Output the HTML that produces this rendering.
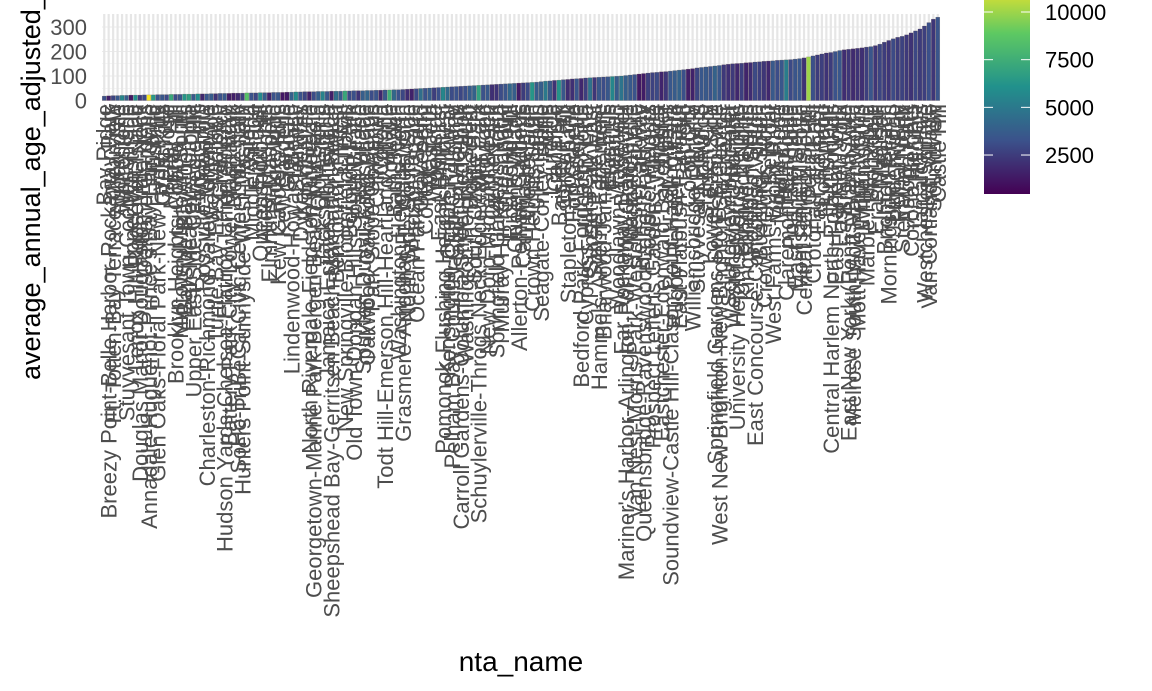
<!DOCTYPE html>
<html><head><meta charset="utf-8">
<style>
body{margin:0;background:#fff;width:1152px;height:691px;overflow:hidden}
svg{display:block;font-family:"Liberation Sans",Arial,sans-serif}
</style></head>
<body>
<svg id="chart" width="1152" height="691" viewBox="0 0 1152 691" xmlns="http://www.w3.org/2000/svg">
<g id="grid"></g>
<g id="bars"></g>
<g id="yaxis"></g>
<g id="xlabels"></g>
<text transform="translate(40,380) rotate(-90)" font-size="27" fill="#000">average_annual_age_adjusted_rate_per_100000</text>
<text x="521" y="671" text-anchor="middle" font-size="28" fill="#000">nta_name</text>
<defs><linearGradient id="vir" x1="0" y1="1" x2="0" y2="0">
<stop offset="0" stop-color="#440154"/><stop offset="0.25" stop-color="#3b528b"/><stop offset="0.5" stop-color="#21918c"/><stop offset="0.75" stop-color="#5ec962"/><stop offset="1" stop-color="#fde725"/></linearGradient></defs>
<g id="legend"></g>
</svg>
<script>
const values=[18,19,20,20,21,21,22,22,22,23,23,23,24,24,24,25,25,25,26,26,
26,27,27,27,28,28,29,29,29,30,30,30,31,31,31,32,32,32,33,33,
33,34,34,35,35,36,36,36,37,37,37,38,38,38,39,39,40,40,40,41,
41,42,42,43,43,44,44,45,46,47,48,49,50,51,52,53,54,55,56,57,
58,59,60,61,62,63,64,65,66,67,68,69,70,71,72,73,74,75,77,79,
80,82,83,85,86,88,89,90,92,93,94,95,96,97,98,99,100,102,104,106,
108,110,112,114,115,117,118,120,122,124,126,128,130,133,135,137,139,141,143,146,
148,150,151,152,154,155,157,158,160,161,162,164,165,166,167,169,171,174,178,182,
186,190,194,196,200,204,207,209,211,213,215,218,220,224,230,238,245,252,258,262,
268,276,284,292,304,318,332,340];
const population=[3200,1500,2800,3600,5600,3800,1200,6000,2400,3000,11600,6500,3300,3500,3000,7200,3100,3400,6300,6800,
3600,5900,1800,3500,3700,2200,3300,3600,1400,1500,1900,2600,8500,3300,2900,5700,3700,1600,3300,3500,
1200,1300,3900,5800,3300,2800,1600,3100,3800,5400,3500,1500,4500,3600,7200,3000,3200,2200,3800,4100,
3100,3400,1800,3600,7500,4200,3300,2900,2000,1600,3000,4500,3300,3800,2600,3200,5600,4300,3100,3300,
2900,3200,3700,4000,6900,3300,3600,2100,2200,3100,3400,4200,3800,1400,2500,3000,6300,3700,3800,5000,
3600,2200,6200,3500,2000,2100,3400,1800,2600,4700,2300,3500,3100,3500,5600,3700,4800,3800,3600,3300,
1300,1400,2600,2700,3000,1700,2300,3500,3700,4000,3200,1500,1600,2800,3500,3600,3300,4000,3500,2400,
2100,2400,1800,2600,1700,2000,3000,2600,2300,1800,3600,3100,3500,5200,3000,3400,3500,2200,10000,3200,
2500,2600,2200,2500,3300,3500,2000,2300,1900,2200,2100,2600,3400,2300,2800,2500,2300,3000,2500,2700,
2400,2200,2900,2500,2600,3200,2300,3400];
const names=["Bay Ridge","Breezy Point-Belle Harbor-Rockaway Park","Ft. Totten-Bay Terrace-Clearview","Auburndale","Whitestone","Stuyvesant Town-Cooper Village","Upper West Side","Lenox Hill-Roosevelt Island","Douglas Manor-Douglaston-Little Neck","Oakland Gardens","Annadale-Huguenot-Prince's Bay-Eltingville","Flushing","Glen Oaks-Floral Park-New Hyde Park","Great Kills","Bellerose","Murray Hill","Brooklyn Heights-Cobble Hill","Midtown-Midtown South","Bayside-Bayside Hills","Fresh Meadows-Utopia","Upper East Side-Carnegie Hill","Forest Hills","Rossville-Woodrow","Charleston-Richmond Valley-Tottenville","West Village","Turtle Bay-East Midtown","Gramercy","Hudson Yards-Chelsea-Flatiron-Union Square","Battery Park City-Lower Manhattan","Rego Park","SoHo-TriBeCa-Civic Center-Little Italy","Hunters Point-Sunnyside-West Maspeth","Astoria","Middle Village","Elmhurst","Queensboro Hill","Arden Heights","Elmhurst-Maspeth","Ridgewood","Kew Gardens Hills","Kew Gardens","Glendale","Lindenwood-Howard Beach","Steinway","Dyker Heights","Woodhaven","North Riverdale-Fieldston-Riverdale","Georgetown-Marine Park-Bergen Beach-Mill Basin","Old Astoria","Jackson Heights","Jamaica Estates-Holliswood","Sheepshead Bay-Gerritsen Beach-Manhattan Beach","Bensonhurst West","Clinton","New Springville-Bloomfield-Travis","Borough Park","Old Town-Dongan Hills-South Beach","East Village","Spuyten Duyvil-Kingsbridge","Oakwood-Oakwood Beach","Park Slope-Gowanus","Chinatown","Corona","Todt Hill-Emerson Hill-Heartland Village","Yorkville","Bath Beach","Washington Heights North","Grasmere-Arrochar-Ft. Wadsworth","North Side-South Side","Windsor Terrace","Ocean Parkway South","Gravesend","College Point","Maspeth","Woodside","East Elmhurst","Pomonok-Flushing Heights-Hillcrest","Kensington-Ocean Parkway","Pelham Bay-Country Club-City Island","Hamilton Heights","Carroll Gardens-Columbia Street-Red Hook","Washington Heights South","Homecrest","South Ozone Park","Schuylerville-Throgs Neck-Edgewater Park","Midwood","New Dorp-Midland Beach","Ozone Park","Springfield Gardens North","Murray Hill-Kingsbridge","Greenpoint","Richmond Hill","Queens Village","Allerton-Pelham Gardens","Cambria Heights","Westerleigh","Crown Heights South","Flatlands","Seagate-Coney Island","Hollis","Laurelton","Canarsie","Baisley Park","Clinton Hill","Stapleton-Rosebank","Fort Greene","Rosedale","Bedford Park-Fordham North","Cypress Hills-City Line","Sunset Park East","Sunset Park West","Hammels-Arverne-Edgemere","Briarwood-Jamaica Hills","Erasmus","Flatbush","Woodlawn-Wakefield","Far Rockaway-Bayswater","Mariner's Harbor-Arlington-Port Ivory-Graniteville","Manhattanville","Van Nest-Morris Park-Westchester Square","Pelham Parkway","Queensbridge-Ravenswood-Long Island City","Prospect Heights","Prospect Lefferts Gardens-Wingate","Jamaica","Eastchester-Edenwald-Baychester","St. Albans","Soundview-Castle Hill-Clason Point-Harding Park","Rugby-Remsen Village","East Flatbush-Farragut","Bedford","Co-op City","Williamsbridge-Olinville","Stuyvesant Heights","Norwood","Starrett City","Lower East Side","Springfield Gardens South-Brookville","West New Brighton-New Brighton-St. George","Parkchester","Soundview-Bruckner","Westchester-Unionport","University Heights-Morris Heights","Bushwick North","Kingsbridge Heights","Fordham South","East Concourse-Concourse Village","Bushwick South","Crown Heights North","Belmont","West Farms-Bronx River","Mount Hope","Highbridge","Claremont-Bathgate","Port Richmond","East Harlem South","Morrisania-Melrose","Central Harlem South","Ocean Hill","Crotona Park East","East Tremont","Longwood","Hunts Point","Central Harlem North-Polo Grounds","East Harlem North","East New York","Brownsville","East New York (Pennsylvania Ave)","Melrose South-Mott Haven North","Mott Haven-Port Morris","Williamsburg","Marble Hill-Inwood","Bronxdale","Erasmus Hall","Madison","Brighton Beach","Morningside Heights","Lindenwood","Pelham Bay","Steinway North","Astoria Park","Corona Heights","Hillcrest","Jamaica Hills","Westchester Square","Van Cortlandt Village","Soundview","Castle Hill","Throgs Neck","Edgewater Park","Fieldston","Riverdale","City Island","Country Club"];

const X0=102,X1=940,Y0=100.5,K=0.245,N=values.length,BW=(X1-X0)/N;
const PMIN=456,PMAX=11700;
const ns="http://www.w3.org/2000/svg";
const xs=i=>X0+i*BW, ys=v=>Y0-v*K;
const stops=[[68,1,84],[59,82,139],[33,145,140],[94,201,98],[253,231,37]];
function vir(p){let t=(p-PMIN)/(PMAX-PMIN);t=Math.max(0,Math.min(1,t))*4;const k=Math.min(3,Math.floor(t)),f=t-k,a=stops[k],b=stops[k+1];
return `rgb(${a.map((c,j)=>Math.round(c+(b[j]-c)*f)).join(',')})`;}
const grid=document.getElementById('grid'),bars=document.getElementById('bars'),yax=document.getElementById('yaxis'),xl=document.getElementById('xlabels'),leg=document.getElementById('legend');
const yTicks=[0,100,200,300],yMinor=[50,150,250];
yMinor.concat(yTicks).forEach(v=>{const l=document.createElementNS(ns,'line');


l.setAttribute('x1',X0);l.setAttribute('x2',X1);l.setAttribute('y1',ys(v));l.setAttribute('y2',ys(v));l.setAttribute('stroke','#ebebeb');l.setAttribute('stroke-width',yTicks.includes(v)?1.1:0.6);grid.appendChild(l);});
yTicks.forEach(v=>{const t=document.createElementNS(ns,'text');


t.setAttribute('x',87);t.setAttribute('y',ys(v)+8);t.setAttribute('text-anchor','end');t.setAttribute('font-size','22');t.setAttribute('fill','#4d4d4d');t.textContent=v;yax.appendChild(t);});
for(let i=0;i<N;i++){const cx=xs(i)+BW/2;
const g=document.createElementNS(ns,'line');


g.setAttribute('x1',cx);g.setAttribute('x2',cx);g.setAttribute('y1',14);g.setAttribute('y2',Y0);g.setAttribute('stroke','#e6e6e6');g.setAttribute('stroke-width',2.2);grid.appendChild(g);
const r=document.createElementNS(ns,'rect');


r.setAttribute('x',xs(i)+BW*0.05);r.setAttribute('width',BW*0.9);r.setAttribute('y',ys(values[i]));r.setAttribute('height',values[i]*K);r.setAttribute('fill',vir(population[i]));r.setAttribute('stroke','rgba(80,60,50,0.35)');r.setAttribute('stroke-width','0.5');bars.appendChild(r);
const t=document.createElementNS(ns,'text');


t.setAttribute('transform',`translate(${cx+8},104) rotate(-90)`);t.setAttribute('text-anchor','end');t.setAttribute('font-size','22');t.setAttribute('fill','#4d4d4d');t.textContent=names[i%names.length];xl.appendChild(t);}
const ly=p=>194-(p-PMIN)/(10000-PMIN)*182;
const lg=document.createElementNS(ns,'rect');


lg.setAttribute('x',984);lg.setAttribute('y',ly(PMAX));lg.setAttribute('width',46);lg.setAttribute('height',194-ly(PMAX));lg.setAttribute('fill','url(#vir)');leg.appendChild(lg);
const legTicks=[2500,5000,7500,10000];
legTicks.forEach(p=>{[984,1021].forEach(x=>{const l=document.createElementNS(ns,'line');


l.setAttribute('x1',x);l.setAttribute('x2',x+9);l.setAttribute('y1',ly(p));l.setAttribute('y2',ly(p));l.setAttribute('stroke','#fff');l.setAttribute('stroke-width','1');leg.appendChild(l);});
const t=document.createElementNS(ns,'text');


t.setAttribute('x',1045);t.setAttribute('y',ly(p)+8);t.setAttribute('font-size','22');t.setAttribute('fill','#000');t.textContent=p;leg.appendChild(t);});
</script>
</body></html>
